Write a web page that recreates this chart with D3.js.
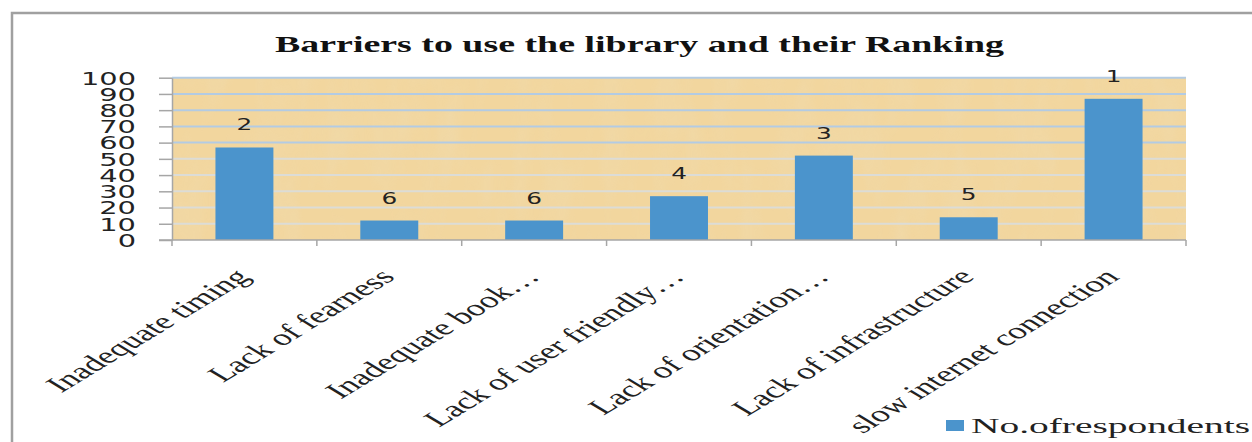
<!DOCTYPE html>
<html>
<head>
<meta charset="utf-8">
<script src="https://cdnjs.cloudflare.com/ajax/libs/d3/7.8.5/d3.min.js"></script>
<style>
  html, body { margin: 0; padding: 0; background: #ffffff; }
  svg { display: block; }
</style>
</head>
<body>
<div id="chart"></div>
<script>
// ---- data ----
const categories = [
  "Inadequate timing",
  "Lack of fearness",
  "Inadequate book…",
  "Lack of user friendly…",
  "Lack of orientation…",
  "Lack of infrastructure",
  "slow internet connection"
];
const respondents = [57, 12, 12, 27, 52, 14, 87];
const ranks = ["2", "6", "6", "4", "3", "5", "1"];
const yTickValues = [0, 10, 20, 30, 40, 50, 60, 70, 80, 90, 100];
const titleText = "Barriers to use the library and their Ranking";
const seriesName = "No.ofrespondents";

// ---- layout ----
const W = 1252, H = 442;
const S = 1.65; // horizontal stretch of the original picture
const plot = { left: 172, right: 1186, top: 77.7, bottom: 240 };

const svg = d3.select("#chart").append("svg")
  .attr("width", W).attr("height", H)
  .attr("viewBox", `0 0 ${W} ${H}`);

svg.append("rect").attr("width", W).attr("height", H).attr("fill", "#ffffff");

// parchment texture filter
const defs = svg.append("defs");
const f = defs.append("filter").attr("id", "paper")
  .attr("x", 0).attr("y", 0).attr("width", 1).attr("height", 1);
f.append("feTurbulence").attr("type", "fractalNoise")
  .attr("baseFrequency", "0.035 0.012").attr("numOctaves", 3).attr("seed", 7).attr("result", "n");
f.append("feColorMatrix").attr("in", "n").attr("type", "matrix")
  .attr("values", "0 0 0 0 0.86  0 0 0 0 0.72  0 0 0 0 0.45  0 0 0 -1.4 0.85");

// chart border
svg.append("path")
  .attr("d", `M12,${H + 5} L12,13 L${W + 5},13`)
  .attr("fill", "none").attr("stroke", "#a0a0a0").attr("stroke-width", 2.5);

// scales
const x = d3.scaleBand().domain(categories)
  .range([plot.left, plot.right]).paddingInner(0.6).paddingOuter(0.3);
const y = d3.scaleLinear().domain([0, 100]).range([plot.bottom, plot.top]);

// plot background
svg.append("rect")
  .attr("x", plot.left).attr("y", plot.top)
  .attr("width", plot.right - plot.left).attr("height", plot.bottom - plot.top)
  .attr("fill", "#f2d69e");
svg.append("rect")
  .attr("x", plot.left).attr("y", plot.top)
  .attr("width", plot.right - plot.left).attr("height", plot.bottom - plot.top)
  .attr("fill", "#f2d69e").attr("filter", "url(#paper)").attr("opacity", 0.6);

// gridlines
svg.append("g").selectAll("line")
  .data(yTickValues.filter(v => v > 0))
  .join("line")
  .attr("x1", plot.left).attr("x2", plot.right)
  .attr("y1", d => y(d)).attr("y2", d => y(d))
  .attr("stroke", d => d >= 60 ? "#b3cbe3" : "#dcdcd6")
  .attr("stroke-width", 2);

// bars
svg.append("g").selectAll("rect")
  .data(respondents)
  .join("rect")
  .attr("x", (d, i) => x(categories[i]))
  .attr("y", d => y(d))
  .attr("width", x.bandwidth())
  .attr("height", d => y(0) - y(d))
  .attr("fill", "#4b94cc");

// data labels (ranks)
svg.append("g").selectAll("text")
  .data(respondents)
  .join("text")
  .attr("transform", (d, i) =>
    `translate(${x(categories[i]) + x.bandwidth() / 2},${y(d) - 17}) scale(1.5,1)`)
  .attr("text-anchor", "middle")
  .attr("font-family", "DejaVu Sans, sans-serif")
  .attr("font-size", 16.5)
  .attr("fill", "#222")
  .text((d, i) => ranks[i]);

// y axis
const yAxis = svg.append("g")
  .attr("transform", `translate(${plot.left},0)`)
  .call(d3.axisLeft(y).tickValues(yTickValues).tickSize(13).tickSizeOuter(0));
yAxis.select(".domain").attr("stroke", "#a6a6a6").attr("stroke-width", 1.5);
yAxis.selectAll(".tick line").attr("stroke", "#a6a6a6").attr("stroke-width", 1.5);
yAxis.selectAll(".tick text")
  .attr("x", 0).attr("dy", "0.36em")
  .attr("transform", `translate(-36,0) scale(${S},1)`)
  .attr("font-family", "DejaVu Sans, sans-serif")
  .attr("font-size", 17.5)
  .attr("fill", "#222");

// x axis
const xAxis = svg.append("g")
  .attr("transform", `translate(0,${plot.bottom})`)
  .call(d3.axisBottom(x).tickSize(0).tickSizeOuter(0));
xAxis.select(".domain").attr("stroke", "#a6a6a6").attr("stroke-width", 1.5)
  .attr("d", `M${plot.left - 13},0H${plot.right}`);
xAxis.selectAll(".tick text")
  .attr("x", 0).attr("y", 0).attr("dy", 0)
  .attr("transform", `translate(7,38) scale(${S},1) rotate(-45)`)
  .attr("text-anchor", "end")
  .attr("font-family", "Liberation Serif, Times New Roman, serif")
  .attr("font-size", 22.5)
  .attr("fill", "#222");
// category boundary ticks
const bounds = d3.range(categories.length + 1).map(i => plot.left + i * x.step());
xAxis.append("g").selectAll("line")
  .data(bounds).join("line")
  .attr("x1", d => d).attr("x2", d => d)
  .attr("y1", 0).attr("y2", 6)
  .attr("stroke", "#a6a6a6").attr("stroke-width", 1.5);

// title
svg.append("text")
  .attr("x", 275).attr("y", 52)
  .attr("textLength", 729).attr("lengthAdjust", "spacingAndGlyphs")
  .attr("font-family", "Liberation Serif, Times New Roman, serif")
  .attr("font-weight", "bold")
  .attr("font-size", 24)
  .attr("fill", "#111")
  .text(titleText);

// legend
const lg = svg.append("g");
lg.append("rect").attr("x", 946).attr("y", 420).attr("width", 18).attr("height", 11)
  .attr("fill", "#4b94cc");
lg.append("text")
  .attr("x", 971).attr("y", 433)
  .attr("textLength", 279).attr("lengthAdjust", "spacingAndGlyphs")
  .attr("font-family", "Liberation Serif, Times New Roman, serif")
  .attr("font-size", 22)
  .attr("fill", "#222")
  .text(seriesName);
</script>
</body>
</html>
